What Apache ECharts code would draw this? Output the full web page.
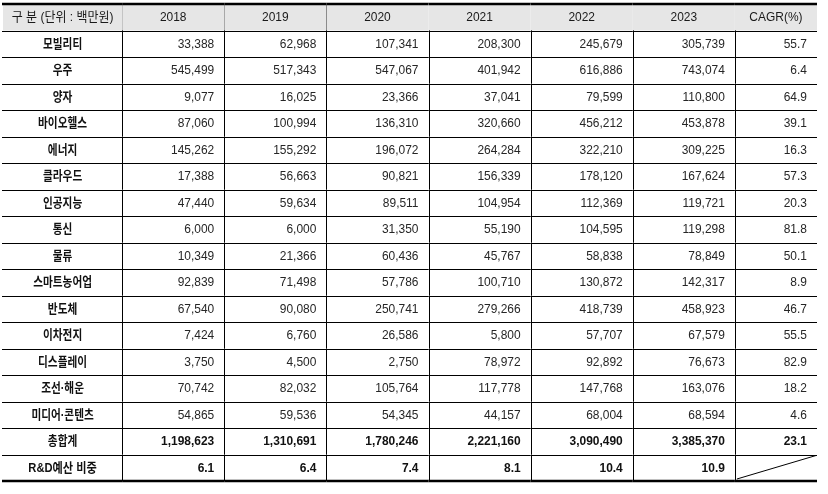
<!DOCTYPE html>
<html>
<head>
<meta charset="utf-8">
<script src="https://cdn.jsdelivr.net/npm/echarts@6/dist/echarts.min.js"></script>
<style>
  html, body { margin: 0; padding: 0; background: #fff; }
  #main { width: 828px; height: 494px; }
</style>
</head>
<body>
<div id="main"></div>
<script>
// 표 데이터 (단위 : 백만원)
var fields = ['모빌리티','우주','양자','바이오헬스','에너지','클라우드','인공지능','통신','물류','스마트농어업','반도체','이차전지','디스플레이','조선·해운','미디어·콘텐츠'];
var years = ['2018','2019','2020','2021','2022','2023'];
var v2018 = [33388,545499,9077,87060,145262,17388,47440,6000,10349,92839,67540,7424,3750,70742,54865];
var v2019 = [62968,517343,16025,100994,155292,56663,59634,6000,21366,71498,90080,6760,4500,82032,59536];
var v2020 = [107341,547067,23366,136310,196072,90821,89511,31350,60436,57786,250741,26586,2750,105764,54345];
var v2021 = [208300,401942,37041,320660,264284,156339,104954,55190,45767,100710,279266,5800,78972,117778,44157];
var v2022 = [245679,616886,79599,456212,322210,178120,112369,104595,58838,130872,418739,57707,92892,147768,68004];
var v2023 = [305739,743074,110800,453878,309225,167624,119721,119298,78849,142317,458923,67579,76673,163076,68594];
var cagr = [55.7,6.4,64.9,39.1,16.3,57.3,20.3,81.8,50.1,8.9,46.7,55.5,82.9,18.2,4.6];
var totals = [1198623,1310691,1780246,2221160,3090490,3385370];
var totalCagr = 23.1;
var rdShare = [6.1,6.4,7.4,8.1,10.4,10.9];

var headerLabel = '구 분 (단위 : 백만원)';
var cagrLabel = 'CAGR(%)';
var totalLabel = '총합계';
var rdLabel = 'R&D예산 비중';

// 열 경계 (x축 값 단위)
var colEdges = [0, 119, 221, 323, 425, 527, 629, 731, 813];

var yearCols = [v2018, v2019, v2020, v2021, v2022, v2023];
var rowNames = ['header'].concat(fields, [totalLabel, rdLabel]);
var nRows = rowNames.length;

function fmt(n) { return n.toLocaleString('en-US'); }

// 셀 목록: [행, 열, 텍스트, 종류]
var cells = [];
cells.push([0, 0, headerLabel, 'head']);
years.forEach(function (y, j) { cells.push([0, j + 1, y, 'head']); });
cells.push([0, 7, cagrLabel, 'head']);
fields.forEach(function (f, i) {
  var r = i + 1;
  cells.push([r, 0, f, 'label']);
  yearCols.forEach(function (arr, j) { cells.push([r, j + 1, fmt(arr[i]), 'num']); });
  cells.push([r, 7, cagr[i].toFixed(1), 'num']);
});
var rt = fields.length + 1;
cells.push([rt, 0, totalLabel, 'label']);
totals.forEach(function (t, j) { cells.push([rt, j + 1, fmt(t), 'bold']); });
cells.push([rt, 7, totalCagr.toFixed(1), 'bold']);
var rr = rt + 1;
cells.push([rr, 0, rdLabel, 'label']);
rdShare.forEach(function (t, j) { cells.push([rr, j + 1, t.toFixed(1), 'bold']); });
cells.push([rr, 7, '', 'diag']);

var FONT = '"Liberation Sans", Arial, "Noto Sans CJK KR", sans-serif';

function px(v) { return Math.round(v) + 0.5; }

function renderCell(params, api) {
  var r = api.value(0), c = api.value(1);
  var item = cells[params.dataIndex];
  var text = item[2], kind = item[3];
  var h = api.size([0, 1])[1];
  var left = api.coord([colEdges[c], r]);
  var right = api.coord([colEdges[c + 1], r]);
  var x0 = left[0], x1 = right[0], yc = left[1];
  var y0 = yc - h / 2, y1 = yc + h / 2;
  var children = [];
  if (kind === 'head') {
    children.push({ type: 'rect', shape: { x: x0, y: y0, width: x1 - x0, height: h }, style: { fill: '#e6e6e6' } });
  }
  var st = { text: text, x: 0, y: 0, verticalAlign: 'middle', fill: '#1a1a1a', fontSize: 13, fontFamily: FONT };
  var tx, sx = 0.92;
  if (kind === 'head' || kind === 'label') {
    tx = (x0 + x1) / 2;
    st.align = 'center';
    if (kind === 'label') { st.fontWeight = 'bold'; st.fill = '#111'; sx = c === 0 && /[A-Z]/.test(text) ? 0.86 : 0.82; }
  } else {
    tx = x1 - 10;
    st.align = 'right';
    st.fill = '#262626';
    if (kind === 'bold') { st.fontWeight = 'bold'; st.fill = '#111'; }
  }
  if (text) children.push({ type: 'text', x: tx, y: yc + 0.5, scaleX: sx, style: st });
  // 아래쪽 선
  var last = r === nRows - 1;
  var yb = last ? Math.round(y1) : px(y1);
  children.push({ type: 'line', shape: { x1: x0 - (c === 0 ? 1 : 0), y1: yb, x2: x1, y2: yb },
    style: { stroke: '#000', lineWidth: last ? 2.5 : 1 } });
  if (r === 0) {
    children.push({ type: 'line', shape: { x1: x0 - (c === 0 ? 1 : 0), y1: Math.round(y0), x2: x1, y2: Math.round(y0) },
      style: { stroke: '#000', lineWidth: 2.5 } });
  }
  if (c < colEdges.length - 2) {
    children.push({ type: 'line', shape: { x1: px(x1), y1: y0, x2: px(x1), y2: y1 }, style: { stroke: '#000', lineWidth: 1 } });
  }
  if (kind === 'diag') {
    children.push({ type: 'line', shape: { x1: x0 + 2, y1: y1 - 2, x2: x1 - 1, y2: y0 + 1 }, style: { stroke: '#000', lineWidth: 1 } });
  }
  return { type: 'group', children: children };
}

var chart = echarts.init(document.getElementById('main'));
chart.setOption({
  animation: false,
  grid: { left: 3, right: 11, top: 4, bottom: 13 },
  xAxis: { type: 'value', min: 0, max: colEdges[colEdges.length - 1], show: false },
  yAxis: { type: 'category', data: rowNames.map(function (n, i) { return i; }), inverse: true, show: false },
  series: [{
    type: 'custom',
    renderItem: renderCell,
    data: cells.map(function (d) { return [d[0], d[1]]; }),
    encode: { y: 0, x: 1 },
    silent: true
  }]
});
</script>
</body>
</html>
